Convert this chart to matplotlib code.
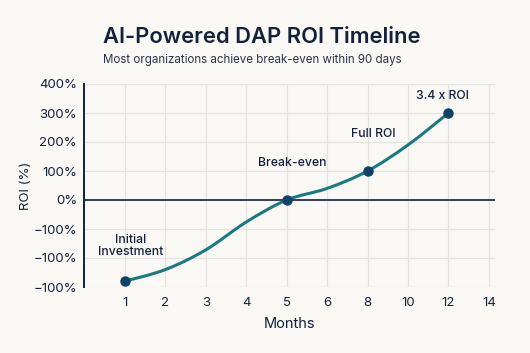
import numpy as np
import matplotlib.pyplot as plt
from matplotlib.path import Path
from matplotlib.patches import PathPatch

# month tick labels (evenly spaced categories on the x axis)
month_labels = ["1", "2", "3", "4", "5", "6", "8", "10", "12", "14"]

# curve readings at each tick position (ROI %)
curve_roi = [-280, -240, -172, -76, 0, 40, 100, 190, 300]

# milestone points: tick index, ROI, label
milestone_idx = [0, 4, 6, 8]
milestone_roi = [-280, 0, 100, 300]
milestone_text = ["Initial\nInvestment", "Break-even", "Full ROI", "3.4 x ROI"]

y_ticks = [400, 300, 200, 100, 0, -100, -200, -300]
y_ticklabels = ["400%", "300%", "200%", "100%", "0%", "\u2212100%", "\u2212100%", "\u2212100%"]

BG = "#f9f8f5"
NAVY = "#14213a"
TEAL = "#1b7a80"
DOT = "#0e4266"
GRID = "#e3e3e0"

plt.rcParams["font.family"] = ["Inter", "DejaVu Sans"]


def smooth_path(xs, ys):
    # catmull-rom -> cubic bezier segments
    pts = np.column_stack([xs, ys]).astype(float)
    verts = [tuple(pts[0])]
    codes = [Path.MOVETO]
    n = len(pts)
    for i in range(n - 1):
        p0 = pts[i - 1] if i > 0 else pts[i]
        p1 = pts[i]
        p2 = pts[i + 1]
        p3 = pts[i + 2] if i + 2 < n else pts[i + 1]
        c1 = p1 + (p2 - p0) / 6.0
        c2 = p2 - (p3 - p1) / 6.0
        verts += [tuple(c1), tuple(c2), tuple(p2)]
        codes += [Path.CURVE4] * 3
    return Path(verts, codes)


fig = plt.figure(figsize=(5.3, 3.53), dpi=100, facecolor=BG)
ax = fig.add_axes([84 / 530, 1 - 287 / 353, (495 - 84) / 530, (287 - 84) / 353])
ax.set_facecolor(BG)

xpos = np.arange(len(curve_roi))
ax.add_patch(PathPatch(smooth_path(xpos, curve_roi), facecolor="none",
                       edgecolor=TEAL, lw=2.2, zorder=3, capstyle="round"))
ax.plot(milestone_idx, milestone_roi, "o", color=DOT, ms=6.5, zorder=4)

ax.axhline(0, color=NAVY, lw=1.2, zorder=2)

ax.set_xlim(-1.01, 9.15)
ax.set_ylim(-300, 400)
ax.set_xticks(np.arange(len(month_labels)))
ax.set_xticklabels(month_labels)
ax.set_yticks(y_ticks)
ax.set_yticklabels(y_ticklabels)
ax.grid(True, color=GRID, lw=0.9, zorder=0)
ax.tick_params(length=0, labelsize=9.5, colors=NAVY, pad=5)
ax.tick_params(axis="x", pad=7)

for s in ["top", "right", "bottom"]:
    ax.spines[s].set_visible(False)
ax.spines["left"].set_color(NAVY)
ax.spines["left"].set_linewidth(1.4)

ax.set_xlabel("Months", fontsize=10.5, color=NAVY, labelpad=6)
ax.set_ylabel("ROI (%)", fontsize=9.5, color=NAVY, labelpad=1)

offsets = [(4, 17), (4, 22), (4, 22), (-4, 8)]
for i, (xi, yi, t) in enumerate(zip(milestone_idx, milestone_roi, milestone_text)):
    ax.annotate(t, (xi, yi), xytext=offsets[i], textcoords="offset points",
                ha="center", va="bottom", fontsize=8.8, fontweight="medium",
                color=NAVY, linespacing=0.95)

fig.text(103 / 530, 1 - 43 / 353, "AI-Powered DAP ROI Timeline", fontsize=15.8,
         fontweight="semibold", color=NAVY, ha="left", va="baseline")
fig.text(103 / 530, 1 - 63 / 353, "Most organizations achieve break-even within 90 days",
         fontsize=8.3, color="#2a3448", ha="left", va="baseline")

fig.savefig("out.png", dpi=100, facecolor=BG)
